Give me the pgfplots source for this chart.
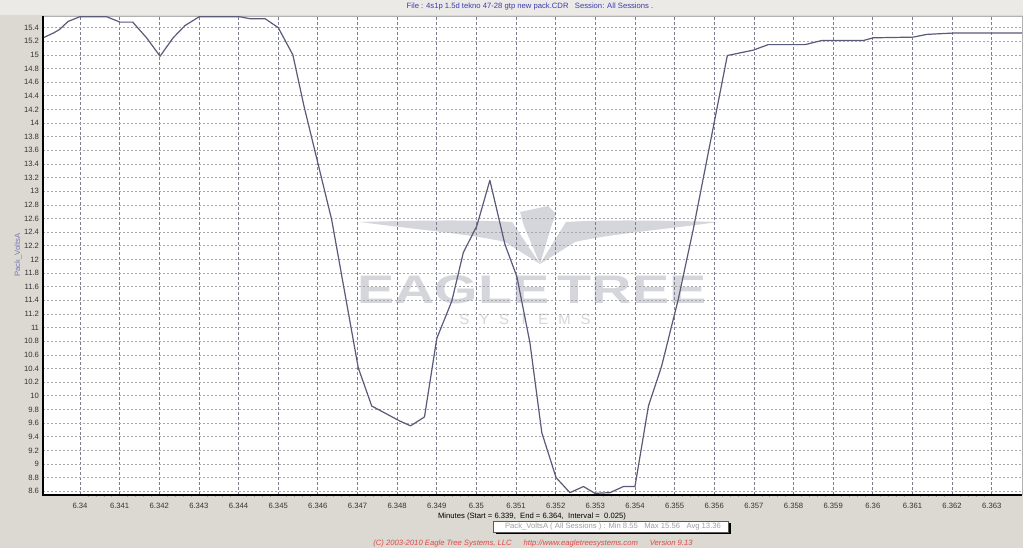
\documentclass[border=0pt]{standalone}
\usepackage{fontspec}
\setmainfont{Liberation Sans}
\usepackage{pgfplots}
\pgfplotsset{compat=1.18}

\definecolor{winbg}{HTML}{DCD9D3}
\definecolor{topbg}{HTML}{ECEAE6}
\definecolor{trace}{HTML}{5A5A7A}
\definecolor{vgrid}{HTML}{7C7C92}
\definecolor{hgrid}{HTML}{A8A8AC}
\definecolor{wmark}{HTML}{D5D6DC}
\definecolor{titleblue}{HTML}{3A3AB0}
\definecolor{ylab}{HTML}{7878B8}
\definecolor{copyred}{HTML}{E04848}
\definecolor{ticktext}{HTML}{333333}

% Pack_VoltsA, minutes vs volts
\pgfplotstableread{
t        v
6.33907  15.25
6.33933  15.32
6.33948  15.37
6.33970  15.49
6.34000  15.56
6.34033  15.56
6.34067  15.56
6.34101  15.48
6.34133  15.48
6.34168  15.25
6.34202  14.98
6.34235  15.25
6.34265  15.43
6.34301  15.56
6.34335  15.56
6.34368  15.56
6.34402  15.56
6.34429  15.53
6.34467  15.53
6.34500  15.40
6.34537  15.00
6.34565  14.25
6.34635  12.58
6.34702  10.41
6.34736  9.85
6.34807  9.63
6.34834  9.56
6.34869  9.69
6.34900  10.84
6.34938  11.39
6.34967  12.10
6.35001  12.49
6.35034  13.16
6.35072  12.22
6.35102  11.75
6.35135  10.78
6.35165  9.46
6.35201  8.80
6.35236  8.58
6.35270  8.67
6.35299  8.57
6.35337  8.58
6.35371  8.67
6.35400  8.67
6.35434  9.85
6.35467  10.43
6.35509  11.41
6.35547  12.44
6.35633  14.99
6.35699  15.07
6.35736  15.15
6.35829  15.15
6.35871  15.21
6.35976  15.21
6.36001  15.25
6.36102  15.26
6.36136  15.30
6.36203  15.32
6.36377  15.32
}\packvolts

\newcommand{\tinyfont}{\fontsize{7.7}{9}\selectfont}

\begin{document}
\begin{tikzpicture}[x=1bp,y=1bp]
\useasboundingbox (0,0) rectangle (1023,548);
% window background
\fill[winbg] (0,0) rectangle (1023,548);
\fill[topbg] (0,533) rectangle (1023,548);
\fill[white] (43,53.3) rectangle (1022,532);

% watermark
\fill[wmark] (360,326) .. controls (430,328) and (480,328) .. (512,326)
  -- (540,284) -- (505,306) .. controls (470,314) and (420,318) .. cycle;
\fill[wmark] (718,326) .. controls (648,328) and (598,328) .. (566,326)
  -- (540,284) -- (575,306) .. controls (610,314) and (660,318) .. cycle;
\fill[wmark] (520,336) -- (548,342) -- (556,334) -- (552,324) -- (540,284) -- (524,322) -- cycle;
\node[text=wmark, font=\fontsize{40}{40}\selectfont\bfseries, inner sep=0pt]
  at (532,258) {\scalebox{1.4}[1]{EAGLE\hspace{6bp}TREE}};
\node[text=wmark, font=\fontsize{15}{15}\selectfont, inner sep=0pt]
  at (525,229) {S\hspace{10bp}Y\hspace{10bp}S\hspace{10bp}T\hspace{10bp}E\hspace{10bp}M\hspace{10bp}S};

\begin{axis}[
    at={(43bp,53.3bp)}, anchor=south west,
    scale only axis, width=979bp, height=478.7bp,
    xmin=6.339067, xmax=6.363764,
    ymin=8.55, ymax=15.57,
    axis line style={draw=gray!60, line width=0.6bp},
    grid=major,
    x grid style={vgrid, line width=0.7bp, dash pattern=on 3bp off 2bp},
    y grid style={hgrid, line width=0.7bp, dash pattern=on 2bp off 2bp},
    xtick={6.34,6.341,6.342,6.343,6.344,6.345,6.346,6.347,6.348,6.349,6.35,6.351,6.352,6.353,6.354,6.355,6.356,6.357,6.358,6.359,6.36,6.361,6.362,6.363},
    xticklabels={6.34,6.341,6.342,6.343,6.344,6.345,6.346,6.347,6.348,6.349,6.35,6.351,6.352,6.353,6.354,6.355,6.356,6.357,6.358,6.359,6.36,6.361,6.362,6.363},
    ytick={8.6,8.8,9,9.2,9.4,9.6,9.8,10,10.2,10.4,10.6,10.8,11,11.2,11.4,11.6,11.8,12,12.2,12.4,12.6,12.8,13,13.2,13.4,13.6,13.8,14,14.2,14.4,14.6,14.8,15,15.2,15.4},
    yticklabels={8.6,8.8,9,9.2,9.4,9.6,9.8,10,10.2,10.4,10.6,10.8,11,11.2,11.4,11.6,11.8,12,12.2,12.4,12.6,12.8,13,13.2,13.4,13.6,13.8,14,14.2,14.4,14.6,14.8,15,15.2,15.4},
    tick label style={font=\tinyfont, text=ticktext},
    xticklabel style={yshift=-5bp},
    yticklabel style={xshift=-0.5bp},
    major tick length=0pt,
    minor x tick num=4,
    minor tick length=2bp,
    tick align=outside,
    minor tick style={gray!70, line width=0.5bp},
    xtick pos=bottom, ytick pos=left,
    /pgf/number format/assume math mode=true,
]
\addplot[trace, line width=1.2bp, line join=round] table[x=t, y=v] {\packvolts};
\end{axis}

% heavy left and bottom frame
\draw[black, line width=2bp] (43,532) -- (43,53.3) -- (1022,53.3);

% texts
\node[text=titleblue, font=\tinyfont, inner sep=0pt] at (530,541)
  {File : 4s1p 1.5d tekno 47-28 gtp new pack.CDR \ \ Session: All Sessions .};
\node[text=ylab, font=\tinyfont, rotate=90, inner sep=0pt] at (18,293) {Pack\_VoltsA};
\node[text=black, font=\tinyfont, inner sep=0pt] at (532,31.5)
  {Minutes (Start = 6.339, \ End = 6.364, \ Interval = \ 0.025)};
\fill[black] (495.5,13.5) rectangle (731,24.5);
\filldraw[fill=white, draw=gray!70!black, line width=0.6bp] (493,16) rectangle (728.5,26.5);
\node[text=gray!75, font=\tinyfont, inner sep=0pt] at (613,21)
  {Pack\_VoltsA ( All Sessions ) : Min 8.55 \ \ Max 15.56 \ \ Avg 13.36};
\node[text=copyred, font=\fontsize{7.7}{9}\selectfont\itshape, inner sep=0pt] at (533,4.5)
  {(C) 2003-2010 Eagle Tree Systems, LLC \quad\ http://www.eagletreesystems.com \quad\ Version 9.13};
\end{tikzpicture}
\end{document}
